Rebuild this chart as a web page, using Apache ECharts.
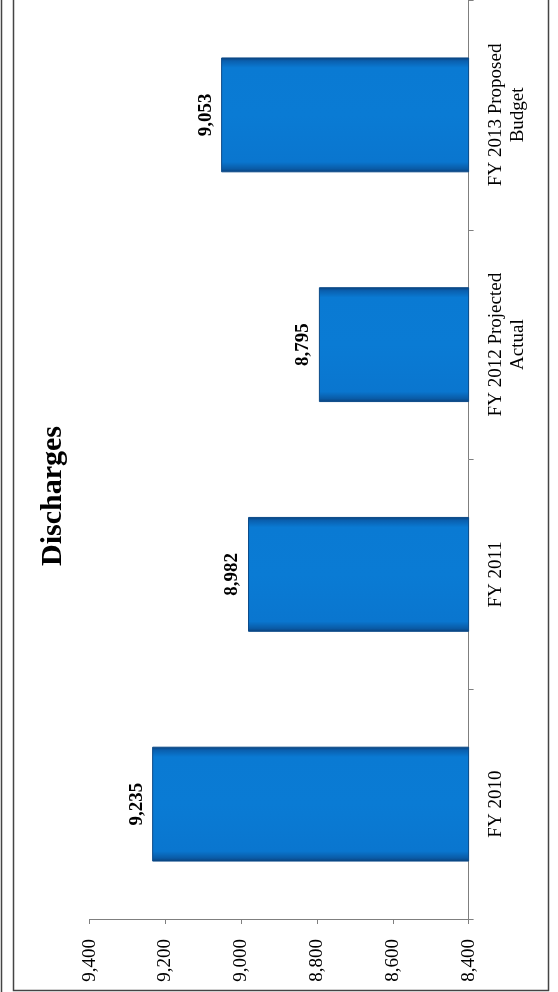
<!DOCTYPE html>
<html>
<head>
<meta charset="utf-8">
<script src="https://cdn.jsdelivr.net/npm/echarts@6/dist/echarts.min.js"></script>
<style>
  html, body { margin: 0; padding: 0; background: #ffffff; }
  #chart { width: 558px; height: 992px; }
</style>
</head>
<body>
<div id="chart"></div>
<script>
// Annual discharges, FY 2010 through the FY 2013 proposed budget
const categories = ['FY 2010', 'FY 2011', 'FY 2012 Projected\nActual', 'FY 2013 Proposed\nBudget'];
const discharges = [9235, 8982, 8795, 9053];
const valueTicks = { min: 8400, max: 9400, step: 200 };
const chartTitle = 'Discharges';

const serif = "'Liberation Serif', 'Times New Roman', serif";
const fmt = v => v.toLocaleString('en-US');

const chart = echarts.init(document.getElementById('chart'), null, { renderer: 'canvas' });

// Bevelled blue fill: darker rims along the long edges of each bar
const barFill = new echarts.graphic.LinearGradient(0, 0, 0, 1, [
  { offset: 0.00, color: '#0b3f78' },
  { offset: 0.03, color: '#0a5fae' },
  { offset: 0.09, color: '#0a7ad3' },
  { offset: 0.50, color: '#0a7bd4' },
  { offset: 0.91, color: '#0a76cf' },
  { offset: 0.97, color: '#0a5ba6' },
  { offset: 1.00, color: '#0b3f78' }
]);

chart.setOption({
  animation: false,
  backgroundColor: '#ffffff',
  grid: { left: 89.6, right: 89.4, top: -4, bottom: 73, containLabel: false },
  xAxis: {
    type: 'value',
    inverse: true,
    position: 'bottom',
    min: valueTicks.min,
    max: valueTicks.max,
    interval: valueTicks.step,
    splitLine: { show: false },
    axisLine: { show: true, lineStyle: { color: '#7f7f7f', width: 1 } },
    axisTick: { show: true, length: 5, lineStyle: { color: '#7f7f7f' } },
    axisLabel: {
      rotate: 90,
      margin: 20,
      color: '#000',
      fontFamily: serif,
      fontSize: 19,
      formatter: v => fmt(v)
    }
  },
  yAxis: {
    type: 'category',
    position: 'right',
    data: categories,
    axisLine: { show: true, lineStyle: { color: '#7f7f7f', width: 1 } },
    axisTick: { show: true, length: 5, lineStyle: { color: '#7f7f7f' } },
    axisLabel: {
      rotate: 90,
      margin: 16,
      align: 'center',
      verticalAlign: 'top',
      color: '#000',
      fontFamily: serif,
      fontSize: 19,
      lineHeight: 22
    }
  },
  series: [{
    type: 'bar',
    data: discharges,
    barWidth: '50%',
    itemStyle: {
      color: barFill,
      borderColor: '#0b4a88',
      borderWidth: 1
    },
    label: {
      show: true,
      position: 'left',
      distance: 6,
      rotate: 90,
      align: 'center',
      verticalAlign: 'bottom',
      color: '#000',
      fontFamily: serif,
      fontWeight: 'bold',
      fontSize: 19,
      formatter: p => fmt(p.value)
    }
  }],
  graphic: [
    {
      type: 'text',
      x: 53,
      y: 496,
      rotation: Math.PI / 2,
      style: {
        text: chartTitle,
        fill: '#000',
        font: 'bold 30px ' + serif,
        textAlign: 'center',
        textVerticalAlign: 'middle'
      }
    },
    {
      type: 'rect',
      shape: { x: 13.5, y: -6, width: 535, height: 996.5 },
      style: { fill: 'none', stroke: '#444', lineWidth: 1.5 }
    },
    {
      type: 'line',
      shape: { x1: 1.5, y1: 0, x2: 1.5, y2: 992 },
      style: { stroke: '#444', lineWidth: 1.5 }
    }
  ]
});
</script>
</body>
</html>
